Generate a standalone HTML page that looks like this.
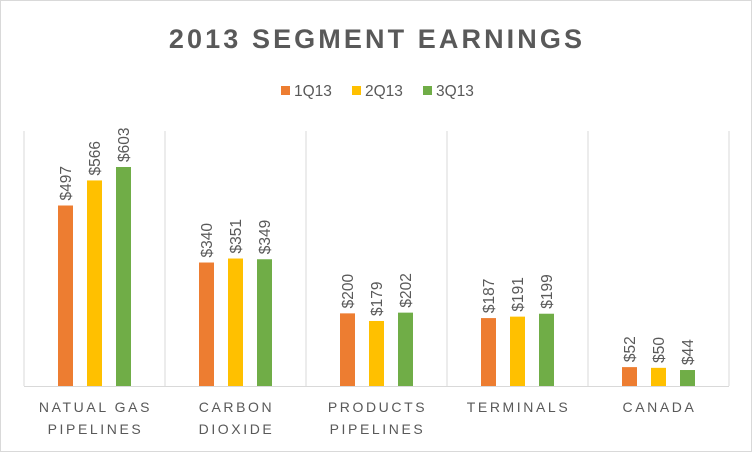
<!DOCTYPE html>
<html><head><style>
body{margin:0;background:#fff;}
svg{display:block;font-family:"Liberation Sans",sans-serif;}
</style></head><body>
<svg width="752" height="452">
<rect x="0.5" y="0.5" width="751" height="451" fill="#fff" stroke="#d9d9d9"/>
<text x="377" y="48" text-anchor="middle" font-size="27" font-weight="bold" fill="#595959" letter-spacing="3.1">2013 SEGMENT EARNINGS</text>
<g id="legend"></g>
<g id="grid"></g>
<g id="bars"></g>
</svg>
<script>
const categories=[["NATUAL GAS","PIPELINES"],["CARBON","DIOXIDE"],["PRODUCTS","PIPELINES"],["TERMINALS"],["CANADA"]];
const seriesNames=["1Q13","2Q13","3Q13"];
const s1=[497,340,200,187,52];
const s2=[566,351,179,191,50];
const s3=[603,349,202,199,44];
const series=[s1,s2,s3];
const colors=["#ed7d31","#ffc000","#70ad47"];
const NS="http://www.w3.org/2000/svg";
const plotLeft=24,plotRight=729,plotTop=131,plotBase=386;
const cw=(plotRight-plotLeft)/categories.length;
const yS=v=>plotBase-v*(219/603);
const xc=i=>plotLeft+cw*(i+0.5);
function mk(t,a,p){const e=document.createElementNS(NS,t);for(const k in a)e.setAttribute(k,a[k]);p.appendChild(e);return e;}
const grid=document.getElementById('grid'),bars=document.getElementById('bars'),leg=document.getElementById('legend');
for(let i=0;i<=categories.length;i++){
 const l=mk('line',{x1:plotLeft+cw*i,x2:plotLeft+cw*i,y1:plotTop,y2:plotBase,stroke:'#d9d9d9'},grid);
 
 
}
const ax=mk('line',{x1:plotLeft,x2:plotRight,y1:plotBase+0.5,y2:plotBase+0.5,stroke:'#d9d9d9'},grid);


categories.forEach((c,i)=>{
 c.forEach((ln,j)=>{
  const t=mk('text',{x:xc(i)+1,y:412+j*22,'text-anchor':'middle','font-size':14,fill:'#595959','letter-spacing':2.6},grid);
  t.textContent=ln;
  
  
 });
 series.forEach((s,k)=>{
  const bx=xc(i)+(k-1)*29-7.5;
  const r=mk('rect',{x:bx,y:yS(s[i]),width:15,height:plotBase-yS(s[i]),fill:colors[k]},bars);
  
  
  const tx=bx+13,ty=yS(s[i])-5;
  const t=mk('text',{x:tx,y:ty,transform:`rotate(-90 ${tx} ${ty})`,'font-size':15.5,fill:'#595959'},bars);
  t.textContent='$'+s[i];
  
  
 });
});
const lx=[281,352,423];
seriesNames.forEach((n,k)=>{
 const r=mk('rect',{x:lx[k],y:86,width:9,height:9,fill:colors[k]},leg);
 
 
 const t=mk('text',{x:lx[k]+13,y:96,'font-size':15.5,fill:'#595959'},leg);
 t.textContent=n;
 
 
});
</script>
</body></html>
